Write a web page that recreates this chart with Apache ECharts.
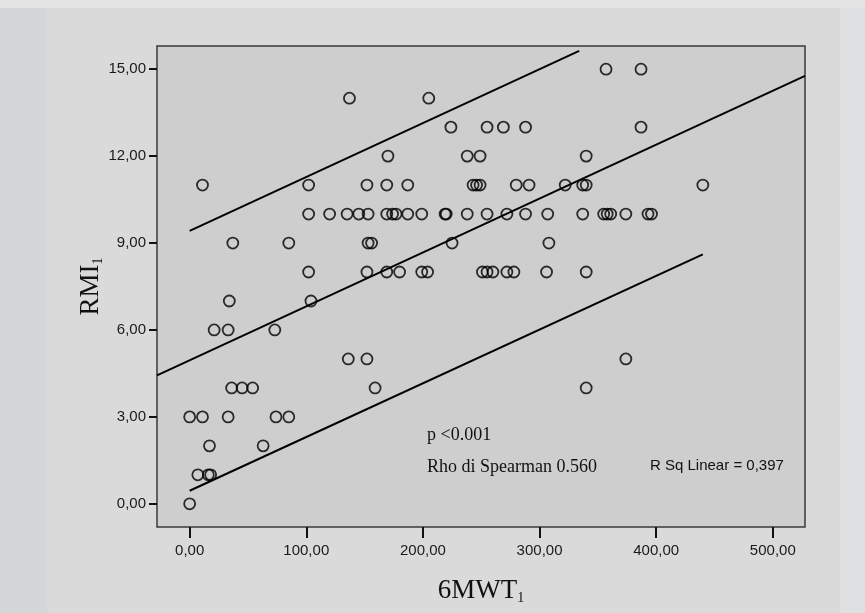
<!DOCTYPE html>
<html>
<head>
<meta charset="utf-8">
<script src="https://cdn.jsdelivr.net/npm/echarts@6/dist/echarts.min.js"></script>
<style>
html, body { margin: 0; padding: 0; background: #dadada; }
#chart { width: 865px; height: 613px; }
</style>
</head>
<body>
<div id="chart"></div>
<script>
// 6MWT (x) and RMI (y) per subject, written row by row (RMI 15 down to 0)
var mwt = [
    357, 387,
    137, 205,
    224, 255, 269, 288, 387,
    170, 238, 249, 340,
    11, 102, 152, 169, 187, 243, 246, 249, 280, 291, 322, 337, 340, 440,
    102, 120, 135, 145, 153, 169, 174, 177, 187, 199, 219, 220, 238, 255, 272, 288, 307, 337, 355, 358, 361, 374, 393, 396,
    37, 85, 153, 156, 225, 308,
    102, 152, 169, 180, 199, 204, 251, 255, 260, 272, 278, 306, 340,
    34, 104,
    21, 33, 73,
    136, 152, 374,
    36, 45, 54, 159, 340,
    0, 11, 33, 74, 85,
    17, 63,
    7, 16, 18,
    0
];
var rmi = [
    15, 15,
    14, 14,
    13, 13, 13, 13, 13,
    12, 12, 12, 12,
    11, 11, 11, 11, 11, 11, 11, 11, 11, 11, 11, 11, 11, 11,
    10, 10, 10, 10, 10, 10, 10, 10, 10, 10, 10, 10, 10, 10, 10, 10, 10, 10, 10, 10, 10, 10, 10, 10,
    9, 9, 9, 9, 9, 9,
    8, 8, 8, 8, 8, 8, 8, 8, 8, 8, 8, 8, 8,
    7, 7,
    6, 6, 6,
    5, 5, 5,
    4, 4, 4, 4, 4,
    3, 3, 3, 3, 3,
    2, 2,
    1, 1, 1,
    0
];

// linear fit and the two interval lines (end points)
var fitLine = [[-28, 4.43], [527.6, 14.77]];
var upperLine = [[0, 9.42], [334, 15.63]];
var lowerLine = [[0, 0.45], [440, 8.61]];

var xTicks = [0, 100, 200, 300, 400, 500];
var yTicks = [0, 3, 6, 9, 12, 15];

var points = mwt.map(function (v, i) { return [v, rmi[i]]; });

function comma(v) {
    return Number(v).toFixed(2).replace('.', ',');
}

var chart = echarts.init(document.getElementById('chart'));

var lineStyle = { color: '#000', width: 2 };

var option = {
    backgroundColor: '#dadada',
    animation: false,
    graphic: [
        { type: 'rect', z: -10, shape: { x: 0, y: 0, width: 865, height: 8 }, style: { fill: '#e4e4e4' } },
        { type: 'rect', z: -10, shape: { x: 0, y: 8, width: 47, height: 605 }, style: { fill: '#d5d6d8' } },
        { type: 'rect', z: -10, shape: { x: 840, y: 8, width: 25, height: 605 }, style: { fill: '#dfe0e2' } },
        { type: 'text', z: 10, style: { text: 'p <0.001', x: 427, y: 435, font: '18px "Liberation Serif"', fill: '#111', verticalAlign: 'middle' } },
        { type: 'text', z: 10, style: { text: 'Rho di Spearman 0.560', x: 427, y: 467, font: '18px "Liberation Serif"', fill: '#111', verticalAlign: 'middle' } },
        { type: 'text', z: 10, style: { text: 'R Sq Linear = 0,397', x: 650, y: 466, font: '15px "Liberation Sans"', fill: '#111', verticalAlign: 'middle' } }
    ],
    grid: {
        left: 157,
        right: 60,
        top: 46,
        bottom: 86,
        show: true,
        backgroundColor: '#cecece',
        borderColor: '#3a3a3a',
        borderWidth: 1.5
    },
    xAxis: {
        type: 'value',
        min: -28,
        max: 527.6,
        name: '{t|6MWT}{s|1}',
        nameLocation: 'middle',
        nameGap: 50,
        nameTextStyle: {
            rich: {
                t: { fontFamily: 'Liberation Serif', fontSize: 27, color: '#111' },
                s: { fontFamily: 'Liberation Serif', fontSize: 14, color: '#111', padding: [14, 0, 0, 0] }
            }
        },
        splitLine: { show: false },
        axisLine: { show: false, onZero: false },
        axisTick: { show: true, length: 11, customValues: xTicks, lineStyle: { color: '#111', width: 2 } },
        axisLabel: {
            customValues: xTicks,
            margin: 16,
            fontFamily: 'Liberation Sans',
            fontSize: 15,
            color: '#1a1a1a',
            formatter: comma
        }
    },
    yAxis: {
        type: 'value',
        min: -0.8,
        max: 15.8,
        name: '{t|RMI}{s|1}',
        nameLocation: 'middle',
        nameGap: 52,
        nameMoveOverlap: false,
        nameRotate: 90,
        nameTextStyle: {
            rich: {
                t: { fontFamily: 'Liberation Serif', fontSize: 27, color: '#111' },
                s: { fontFamily: 'Liberation Serif', fontSize: 14, color: '#111', padding: [14, 0, 0, 0] }
            }
        },
        splitLine: { show: false },
        axisLine: { show: false, onZero: false },
        axisTick: { show: true, length: 8, customValues: yTicks, lineStyle: { color: '#111', width: 2 } },
        axisLabel: {
            customValues: yTicks,
            margin: 11,
            fontFamily: 'Liberation Sans',
            fontSize: 15,
            color: '#1a1a1a',
            formatter: comma
        }
    },
    series: [
        {
            type: 'scatter',
            data: points,
            symbol: 'circle',
            symbolSize: 11,
            itemStyle: { color: 'rgba(0,0,0,0)', borderColor: '#000', borderWidth: 1.8 },
            z: 3
        },
        { type: 'line', data: fitLine, showSymbol: false, silent: true, lineStyle: lineStyle, z: 4 },
        { type: 'line', data: upperLine, showSymbol: false, silent: true, lineStyle: lineStyle, z: 4 },
        { type: 'line', data: lowerLine, showSymbol: false, silent: true, lineStyle: lineStyle, z: 4 }
    ]
};

chart.setOption(option);
</script>
</body>
</html>
